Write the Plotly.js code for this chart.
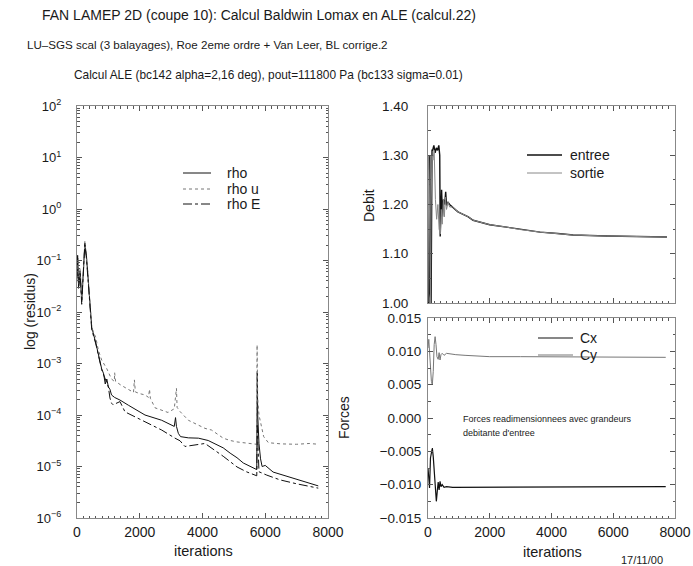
<!DOCTYPE html>
<html><head><meta charset="utf-8">
<script src="https://cdn.plot.ly/plotly-3.0.1.min.js"></script>
<style>html,body{margin:0;padding:0;background:#fff}#c{width:693px;height:566px}</style>
</head><body><div id="c"></div><script>
// ---- residuals (left panel) ----
const rho_it = [0,20,50,100,150,200,250,300,350,415,470,600,700,786,850,900,950,1000,1050,1100,1200,1370,1636,2167,2700,3100,3140,3170,3230,3300,3550,3870,4180,4660,4880,5100,5300,5510,5700,5730,5745,5760,5800,5850,5900,6000,6250,6570,6800,7000,7330,7690];
const rho_val = [5.0e-2,1.26e-1,3.16e-2,6.3e-2,1.58e-2,5.0e-2,2.19e-1,1.26e-1,5.0e-2,1.26e-2,5.0e-3,2.5e-3,1.41e-3,7.9e-4,6.3e-4,4.0e-4,5.0e-4,3.5e-4,3.16e-4,2.45e-4,2.19e-4,1.95e-4,1.55e-4,1.0e-4,7.9e-5,6.0e-5,8.9e-5,6.0e-5,4.4e-5,3.8e-5,3.6e-5,3.55e-5,3.2e-5,2.3e-5,1.82e-5,1.48e-5,1.17e-5,1.02e-5,8.9e-6,8.7e-6,6.6e-4,1.0e-4,2.8e-5,1.41e-5,1.0e-5,1.05e-5,7.8e-6,6.8e-6,6.0e-6,5.5e-6,4.8e-6,4.2e-6];
const rhou_it = [0,20,50,100,150,200,250,300,350,415,470,600,680,786,950,1100,1190,1200,1230,1400,1636,1800,1830,1860,2000,2167,2280,2310,2340,2486,2900,3100,3170,3190,3283,3550,4080,4290,4660,4880,5100,5420,5720,5740,5760,5800,5840,5950,6100,6500,7000,7400,7700];
const rhou_val = [5.6e-2,1.12e-1,3.5e-2,7.1e-2,1.78e-2,5.0e-2,2.34e-1,1.26e-1,5.6e-2,1.41e-2,5.0e-3,3.16e-3,1.82e-3,1.17e-3,7.9e-4,5.0e-4,4.5e-4,6.6e-4,4.5e-4,3.8e-4,3.1e-4,2.75e-4,4.8e-4,2.8e-4,2.6e-4,2.45e-4,2.2e-4,3.16e-4,2.1e-4,1.38e-4,1.12e-4,1.32e-4,3.3e-4,1.41e-4,1.17e-4,7.9e-5,5.5e-5,5.1e-5,3.55e-5,3.2e-5,3.0e-5,2.8e-5,2.7e-5,2.3e-3,2.0e-4,1.0e-4,7.9e-5,3.8e-5,2.9e-5,2.75e-5,2.7e-5,2.8e-5,2.7e-5];
const rhoE_it = [0,20,50,100,150,200,250,300,350,415,470,600,700,786,900,1000,1050,1100,1150,1250,1370,1530,1955,2380,2700,3123,3283,3440,3760,4080,4660,5100,5400,5700,5730,5745,5770,5800,6050,6470,7010,7690];
const rhoE_val = [4.5e-2,1.12e-1,2.8e-2,5.6e-2,1.41e-2,4.5e-2,2.0e-1,1.12e-1,4.5e-2,1.12e-2,4.5e-3,2.4e-3,1.32e-3,7.6e-4,5.0e-4,3.5e-4,2.14e-4,1.7e-4,1.58e-4,1.66e-4,1.82e-4,1.15e-4,8.5e-5,6.5e-5,5.1e-5,3.55e-5,3.16e-5,2.45e-5,2.6e-5,2.8e-5,1.58e-5,9.8e-6,7.9e-6,6.8e-6,6.6e-6,6.3e-5,1.58e-5,7.9e-6,6.8e-6,5.5e-6,4.6e-6,3.8e-6];
const resid_ticks = [1e-6,1e-5,1e-4,1e-3,1e-2,1e-1,1,10,100];
const resid_labels = ['10<sup>−6</sup>','10<sup>−5</sup>','10<sup>−4</sup>','10<sup>−3</sup>','10<sup>−2</sup>','10<sup>−1</sup>','10<sup>0</sup>','10<sup>1</sup>','10<sup>2</sup>'];

// ---- mass flow (right top) ----
const entree_it = [0,30,45,60,75,100,130,150,190,230,270,310,350,380,395,410,440,470,500,540,573,600,640,700,800,970,1306,1460,2000,2550,3000,3630,4200,4700,5790,6500,7740];
const entree_val = [1.00,1.00,1.28,1.30,1.02,1.00,1.31,1.31,1.32,1.305,1.315,1.31,1.32,1.30,1.135,1.19,1.23,1.175,1.21,1.20,1.226,1.198,1.205,1.20,1.195,1.185,1.175,1.168,1.159,1.154,1.149,1.144,1.141,1.138,1.136,1.135,1.134];
const sortie_it = [0,20,40,60,80,100,130,160,200,240,280,320,360,400,430,460,500,530,560,600,650,700,800,970,1306,1460,2000,2550,3000,3630,4200,4700,5790,6500,7740];
const sortie_val = [1.27,1.30,1.24,1.05,1.00,1.20,1.30,1.29,1.31,1.21,1.17,1.20,1.15,1.14,1.19,1.16,1.21,1.175,1.215,1.19,1.205,1.195,1.195,1.185,1.175,1.168,1.159,1.154,1.149,1.144,1.141,1.138,1.136,1.135,1.134];

// ---- forces (right bottom) ----
const cx_it = [0,25,50,80,110,140,170,200,240,270,300,330,360,390,420,460,520,600,800,1200,2000,4000,6000,7700];
const cx_val = [-0.0075,-0.0100,-0.0105,-0.0060,-0.0050,-0.0045,-0.0058,-0.0075,-0.0110,-0.0125,-0.0110,-0.0096,-0.0108,-0.0095,-0.0103,-0.0100,-0.0104,-0.0103,-0.0104,-0.0104,-0.0103,-0.0103,-0.0103,-0.0103];
const cy_it = [0,25,50,80,110,140,170,200,230,260,290,330,360,390,420,460,520,600,700,900,1200,2000,3000,4000,5000,6000,7700];
const cy_val = [0.0105,0.0118,0.0100,0.0075,0.0055,0.0050,0.0070,0.0110,0.0122,0.0110,0.0092,0.0088,0.0098,0.0087,0.0095,0.0097,0.0094,0.0097,0.0096,0.0095,0.0094,0.0092,0.0092,0.0092,0.0091,0.0091,0.0091];

const W = 693, H = 566;
const px = v => v / W, py = v => 1 - v / H;
const FONT = 'Liberation Sans, Arial, Helvetica, sans-serif';
const INK = '#1a1a1a';

const styles = {
  rho:    {color: '#111', width: 1},
  rhou:   {color: '#777', width: 1, dash: 'dot'},
  rhoE:   {color: '#111', width: 1, dash: 'dashdot'},
  entree: {color: '#111', width: 1.4},
  sortie: {color: '#888', width: 1},
  cx:     {color: '#111', width: 1.2},
  cy:     {color: '#777', width: 1}
};

const traces = [
  {x: rho_it, y: rho_val, name: 'rho', mode: 'lines', line: styles.rho, xaxis: 'x', yaxis: 'y'},
  {x: rhou_it, y: rhou_val, name: 'rho u', mode: 'lines', line: styles.rhou, xaxis: 'x', yaxis: 'y'},
  {x: rhoE_it, y: rhoE_val, name: 'rho E', mode: 'lines', line: styles.rhoE, xaxis: 'x', yaxis: 'y'},
  {x: entree_it, y: entree_val, name: 'entree', mode: 'lines', line: styles.entree, xaxis: 'x2', yaxis: 'y2'},
  {x: sortie_it, y: sortie_val, name: 'sortie', mode: 'lines', line: styles.sortie, xaxis: 'x2', yaxis: 'y2'},
  {x: cx_it, y: cx_val, name: 'Cx', mode: 'lines', line: styles.cx, xaxis: 'x3', yaxis: 'y3'},
  {x: cy_it, y: cy_val, name: 'Cy', mode: 'lines', line: styles.cy, xaxis: 'x3', yaxis: 'y3'}
];

const axBase = {
  showline: true, linecolor: '#888', linewidth: 1, mirror: 'allticks',
  ticks: 'inside', ticklen: 5, tickcolor: '#555', tickwidth: 1,
  showgrid: false, zeroline: false,
  tickfont: {family: FONT, size: 14, color: INK}
};
const xTicks = Object.assign({}, axBase, {
  range: [0, 8000], tickvals: [0, 2000, 4000, 6000, 8000], ticktext: ['0', '2000', '4000', '6000', '8000'],
  minor: {dtick: 200, tick0: 0, ticks: 'inside', ticklen: 2.5, tickcolor: '#555', showgrid: false},
  ticklabelstandoff: 1
});

const ann = (x, y, text, o) => Object.assign({xref: 'paper', yref: 'paper', x: px(x), y: py(y), text: text, showarrow: false, xanchor: 'left', yanchor: 'middle', font: {family: FONT, size: 13, color: INK}}, o || {});

// legend entries: [label, style, sample x0, sample x1, y, text x]
const legendItems = [
  ['rho', styles.rho, 183, 211, 173, 225],
  ['rho u', styles.rhou, 183, 211, 189, 225],
  ['rho E', styles.rhoE, 183, 211, 204, 225],
  ['entree', styles.entree, 527, 562, 155, 568],
  ['sortie', styles.sortie, 527, 562, 173, 568],
  ['Cx', styles.cx, 538, 573, 338, 578],
  ['Cy', styles.cy, 538, 573, 355, 578]
];
const legShapes = legendItems.map(it => ({type: 'line', xref: 'paper', yref: 'paper', x0: px(it[2]), x1: px(it[3]), y0: py(it[4]), y1: py(it[4]), line: it[1]}));
const legTexts = legendItems.map(it => ann(it[5], it[4], it[0], {font: {family: FONT, size: 14, color: INK}}));

const layout = {
  width: W, height: H, margin: {l: 0, r: 0, t: 0, b: 0},
  paper_bgcolor: '#fff', plot_bgcolor: '#fff', showlegend: false,
  xaxis: Object.assign({}, xTicks, {domain: [px(77), px(328)], anchor: 'y'}),
  yaxis: Object.assign({}, axBase, {
    domain: [py(518), py(106)], anchor: 'x', type: 'log', range: [-6, 2],
    tickvals: resid_ticks, ticktext: resid_labels,
    tickfont: {family: FONT, size: 13, color: INK}, ticklabelstandoff: 12,
    minor: {dtick: 'D1', ticks: 'inside', ticklen: 2.5, tickcolor: '#555', showgrid: false}
  }),
  xaxis2: Object.assign({}, xTicks, {domain: [px(428), px(675)], anchor: 'y2', showticklabels: false}),
  yaxis2: Object.assign({}, axBase, {
    domain: [py(303), py(106)], anchor: 'x2', range: [1.0, 1.4],
    tickvals: [1.0, 1.1, 1.2, 1.3, 1.4], tickformat: '.2f',
    tickfont: {family: FONT, size: 13.5, color: INK}, ticklabelstandoff: 16,
    minor: {dtick: 0.05, ticks: 'inside', ticklen: 2.5, tickcolor: '#555', showgrid: false}
  }),
  xaxis3: Object.assign({}, xTicks, {domain: [px(428), px(675)], anchor: 'y3'}),
  yaxis3: Object.assign({}, axBase, {
    domain: [py(518), py(318)], anchor: 'x3', range: [-0.015, 0.015],
    tickvals: [-0.015, -0.010, -0.005, 0, 0.005, 0.010, 0.015], tickformat: '.3f',
    tickfont: {family: FONT, size: 13.5, color: INK}, ticklabelstandoff: 3,
    minor: {dtick: 0.0025, ticks: 'inside', ticklen: 2.5, tickcolor: '#555', showgrid: false}
  }),
  shapes: legShapes,
  annotations: [
    ann(40, 15, 'FAN LAMEP 2D (coupe 10): Calcul Baldwin Lomax en ALE (calcul.22)', {font: {family: FONT, size: 14, color: INK}}),
    ann(25, 44, 'LU–SGS scal (3 balayages), Roe 2eme ordre + Van Leer, BL corrige.2', {font: {family: FONT, size: 11.6, color: INK}}),
    ann(72, 75, 'Calcul ALE (bc142 alpha=2,16 deg), pout=111800 Pa (bc133 sigma=0.01)', {font: {family: FONT, size: 11.9, color: INK}}),
    ann(30, 312, 'log (residus)', {xanchor: 'center', textangle: -90, font: {family: FONT, size: 14, color: INK}}),
    ann(203, 551, 'iterations', {xanchor: 'center', font: {family: FONT, size: 14.5, color: INK}}),
    ann(369, 205, 'Debit', {xanchor: 'center', textangle: -90, font: {family: FONT, size: 14, color: INK}}),
    ann(344, 418, 'Forces', {xanchor: 'center', textangle: -90, font: {family: FONT, size: 14, color: INK}}),
    ann(552, 552, 'iterations', {xanchor: 'center', font: {family: FONT, size: 14.5, color: INK}}),
    ann(642, 560, '17/11/00', {xanchor: 'center', font: {family: FONT, size: 11, color: INK}}),
    ann(461, 419, 'Forces readimensionnees avec grandeurs', {font: {family: FONT, size: 9, color: INK}}),
    ann(461, 433, "debitante d'entree", {font: {family: FONT, size: 9, color: INK}})
  ].concat(legTexts)
};

Plotly.newPlot('c', traces, layout, {staticPlot: true, displayModeBar: false});
</script></body></html>
